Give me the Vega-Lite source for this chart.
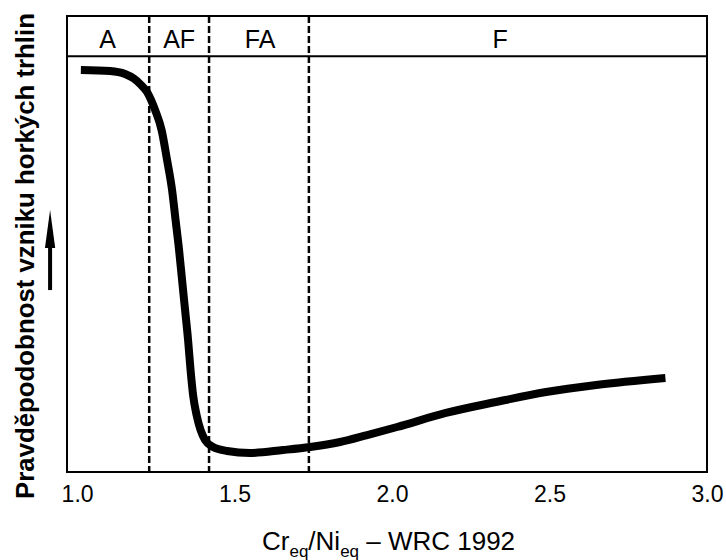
{
  "$schema": "https://vega.github.io/schema/vega-lite/v6.json",
  "autosize": "none",
  "width": 640,
  "height": 456,
  "padding": {"left": 67, "top": 16, "right": 19, "bottom": 88},
  "background": "white",
  "config": {
    "font": "Liberation Sans",
    "view": {"stroke": "black", "strokeWidth": 2}
  },
  "datasets": {
    "curve": [
      {"x": 1.012, "y": 88.16},
      {"x": 1.105, "y": 87.94},
      {"x": 1.1524, "y": 87.28},
      {"x": 1.179, "y": 86.33},
      {"x": 1.2, "y": 85.09},
      {"x": 1.2222, "y": 83.33},
      {"x": 1.2476, "y": 79.39},
      {"x": 1.2683, "y": 75.0},
      {"x": 1.2857, "y": 68.42},
      {"x": 1.3016, "y": 61.84},
      {"x": 1.3127, "y": 55.26},
      {"x": 1.3238, "y": 48.68},
      {"x": 1.3333, "y": 42.11},
      {"x": 1.3429, "y": 35.53},
      {"x": 1.3524, "y": 28.95},
      {"x": 1.3603, "y": 22.37},
      {"x": 1.3683, "y": 16.89},
      {"x": 1.3794, "y": 12.5},
      {"x": 1.3921, "y": 9.21},
      {"x": 1.4063, "y": 7.02},
      {"x": 1.4317, "y": 5.48},
      {"x": 1.4762, "y": 4.61},
      {"x": 1.549, "y": 4.17},
      {"x": 1.654, "y": 4.82},
      {"x": 1.74, "y": 5.48},
      {"x": 1.835, "y": 6.58},
      {"x": 1.921, "y": 8.11},
      {"x": 2.016, "y": 9.87},
      {"x": 2.171, "y": 12.94},
      {"x": 2.33, "y": 15.35},
      {"x": 2.489, "y": 17.54},
      {"x": 2.648, "y": 19.08},
      {"x": 2.868, "y": 20.61}
    ],
    "bounds": [{"x": 1.229}, {"x": 1.419}, {"x": 1.736}],
    "zones": [
      {"zone": "A", "x": 1.097},
      {"zone": "AF", "x": 1.324},
      {"zone": "FA", "x": 1.581},
      {"zone": "F", "x": 2.343}
    ]
  },
  "layer": [
    {
      "data": {"name": "curve"},
      "mark": {"type": "line", "color": "black", "strokeWidth": 8, "interpolate": "monotone", "strokeCap": "butt"},
      "encoding": {
        "x": {
          "field": "x", "type": "quantitative",
          "scale": {"domain": [0.968, 3.0], "nice": false, "zero": false},
          "axis": {
            "values": [1, 1.5, 2, 2.5, 3], "format": ".1f",
            "labelFontSize": 23, "labelColor": "black", "labelPadding": 11,
            "ticks": false, "tickSize": 0, "domain": false, "grid": false,
            "title": null, "labelFlush": false, "labelOverlap": false
          }
        },
        "y": {
          "field": "y", "type": "quantitative",
          "scale": {"domain": [0, 100], "nice": false, "zero": false},
          "axis": {
            "labels": false, "ticks": false, "domain": false, "grid": false,
            "title": "Pravděpodobnost vzniku horkých trhlin",
            "titleFontSize": 25.8, "titleFontWeight": "bold", "titleColor": "black",
            "titleAngle": 270, "titleX": -34, "titleY": 239.5,
            "titleBaseline": "alphabetic", "titleAlign": "center", "titleAnchor": "middle"
          }
        }
      }
    },
    {
      "data": {"name": "bounds"},
      "mark": {"type": "rule", "color": "black", "strokeWidth": 2.5, "strokeDash": [7, 3]},
      "encoding": {
        "x": {"field": "x", "type": "quantitative"}
      }
    },
    {
      "data": {"values": [{}]},
      "mark": {"type": "rule", "color": "black", "strokeWidth": 2},
      "encoding": {
        "y": {"datum": 91.2, "type": "quantitative"}
      }
    },
    {
      "data": {"name": "zones"},
      "mark": {"type": "text", "fontSize": 25, "color": "black", "baseline": "alphabetic", "align": "center"},
      "encoding": {
        "x": {"field": "x", "type": "quantitative"},
        "y": {"datum": 93.0, "type": "quantitative"},
        "text": {"field": "zone"}
      }
    },
    {
      "data": {"values": [{}]},
      "mark": {"type": "rule", "color": "black", "strokeWidth": 4},
      "encoding": {
        "x": {"datum": 0.9143, "type": "quantitative"},
        "y": {"datum": 39.9, "type": "quantitative"},
        "y2": {"datum": 50}
      }
    },
    {
      "data": {"values": [{}]},
      "mark": {"type": "point", "shape": "M0,-1L0.27,1L-0.27,1Z", "size": 1444, "filled": true, "color": "black", "opacity": 1},
      "encoding": {
        "x": {"datum": 0.9143, "type": "quantitative"},
        "y": {"datum": 53.3, "type": "quantitative"}
      }
    },
    {
      "data": {"values": [{}]},
      "mark": {"type": "text", "text": "Cr", "fontSize": 26, "color": "black", "baseline": "alphabetic", "align": "left"},
      "encoding": {
        "x": {"datum": 1.5873, "type": "quantitative"},
        "y": {"datum": -17.1, "type": "quantitative"}
      }
    },
    {
      "data": {"values": [{}]},
      "mark": {"type": "text", "text": "eq", "fontSize": 17, "color": "black", "baseline": "alphabetic", "align": "left"},
      "encoding": {
        "x": {"datum": 1.6743, "type": "quantitative"},
        "y": {"datum": -18.64, "type": "quantitative"}
      }
    },
    {
      "data": {"values": [{}]},
      "mark": {"type": "text", "text": "/Ni", "fontSize": 26, "color": "black", "baseline": "alphabetic", "align": "left"},
      "encoding": {
        "x": {"datum": 1.7343, "type": "quantitative"},
        "y": {"datum": -17.1, "type": "quantitative"}
      }
    },
    {
      "data": {"values": [{}]},
      "mark": {"type": "text", "text": "eq", "fontSize": 17, "color": "black", "baseline": "alphabetic", "align": "left"},
      "encoding": {
        "x": {"datum": 1.8352, "type": "quantitative"},
        "y": {"datum": -18.64, "type": "quantitative"}
      }
    },
    {
      "data": {"values": [{}]},
      "mark": {"type": "text", "text": "– WRC 1992", "fontSize": 26, "color": "black", "baseline": "alphabetic", "align": "left"},
      "encoding": {
        "x": {"datum": 1.918, "type": "quantitative"},
        "y": {"datum": -17.1, "type": "quantitative"}
      }
    }
  ]
}
